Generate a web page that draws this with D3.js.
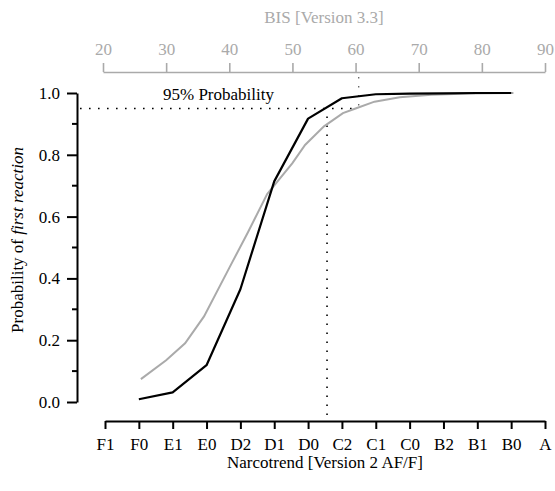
<!DOCTYPE html>
<html>
<head>
<meta charset="utf-8">
<script src="https://cdn.jsdelivr.net/npm/d3@7"></script>
<style>
  body { margin: 0; background: #fff; }
  svg { display: block; font-family: "Liberation Serif", "Times New Roman", serif; }
</style>
</head>
<body>
<svg id="chart" width="555" height="491"></svg>
<script>
// Narcotrend stages (bottom axis)
const stages = ['F1', 'F0', 'E1', 'E0', 'D2', 'D1', 'D0', 'C2', 'C1', 'C0', 'B2', 'B1', 'B0', 'A'];
// black curve: probability per Narcotrend stage (starts at F0)
const ntStages = ['F0', 'E1', 'E0', 'D2', 'D1', 'D0', 'C2', 'C1', 'C0', 'B2', 'B1', 'B0'];
const ntProb = [0.009, 0.031, 0.119, 0.365, 0.714, 0.917, 0.983, 0.996, 0.998, 0.999, 1.0, 1.0];

// grey curve: probability vs BIS
const bisValues = [26, 30, 33, 36, 40, 43, 46, 50, 52, 55, 58, 60, 63, 67, 72, 78, 85];
const bisProb = [0.074, 0.135, 0.19, 0.277, 0.434, 0.551, 0.673, 0.773, 0.832, 0.892, 0.935, 0.95, 0.972, 0.986, 0.994, 0.998, 1.0];

const bisTicks = [20, 30, 40, 50, 60, 70, 80, 90];
const probTicks = [0, 0.2, 0.4, 0.6, 0.8, 1.0];
const probMinor = [0.1, 0.3, 0.5, 0.7, 0.9];

const p95 = 0.95;
const bis95 = 60.5;   // BIS where grey curve reaches 95%
const nt95 = 6.56;    // stage position where black curve reaches 95%

const GREY = '#aaaaaa';
const FS = 17;

const svg = d3.select('#chart');

const x = d3.scaleLinear().domain([0, stages.length - 1]).range([105, 545]);
const xBis = d3.scaleLinear().domain([20, 90]).range([103, 545]);
const y = d3.scaleLinear().domain([0, 1]).range([402, 93]);

const styleAxis = (g, color, width) => {
  g.attr('font-family', null).attr('font-size', FS);
  g.select('.domain').attr('stroke', color).attr('stroke-width', width);
  g.selectAll('.tick line').attr('stroke', color).attr('stroke-width', width);
  g.selectAll('.tick text').attr('fill', color);
};

// top BIS axis
svg.append('g')
  .attr('transform', 'translate(0,72)')
  .call(d3.axisTop(xBis).tickValues(bisTicks).tickSize(9).tickSizeOuter(0).tickPadding(8))
  .call(styleAxis, GREY, 1.6);

svg.append('text')
  .attr('x', 324).attr('y', 23)
  .attr('text-anchor', 'middle')
  .attr('font-size', FS)
  .attr('fill', GREY)
  .text('BIS [Version 3.3]');

// bottom Narcotrend axis
svg.append('g')
  .attr('transform', 'translate(0,421)')
  .call(d3.axisBottom(x).ticks(stages.length).tickFormat((i) => stages[i]).tickSize(8).tickSizeOuter(0).tickPadding(9))
  .call(styleAxis, '#000', 2);

svg.append('text')
  .attr('x', 325).attr('y', 468)
  .attr('text-anchor', 'middle')
  .attr('font-size', FS)
  .text('Narcotrend [Version 2 AF/F]');

// left probability axis
const leftAxis = svg.append('g')
  .attr('transform', 'translate(77,0)')
  .call(d3.axisLeft(y).tickValues(probTicks).tickFormat(d3.format('.1f')).tickSize(10).tickSizeOuter(0).tickPadding(7))
  .call(styleAxis, '#000', 2);

leftAxis.selectAll('.minor')
  .data(probMinor)
  .join('line')
  .attr('class', 'minor')
  .attr('x1', -5).attr('x2', 0)
  .attr('y1', (d) => y(d)).attr('y2', (d) => y(d))
  .attr('stroke', '#000').attr('stroke-width', 2);

const yLabel = svg.append('text')
  .attr('transform', 'translate(23,240) rotate(-90)')
  .attr('text-anchor', 'middle')
  .attr('font-size', FS);
yLabel.append('tspan').text('Probability of ');
yLabel.append('tspan').attr('font-style', 'italic').text('first reaction');

// 95% guides
const dots = '1.6 7.4';
svg.append('line')
  .attr('x1', 80).attr('x2', xBis(bis95))
  .attr('y1', y(p95)).attr('y2', y(p95))
  .attr('stroke', '#000').attr('stroke-width', 1.6)
  .attr('stroke-dasharray', dots);
svg.append('line')
  .attr('x1', x(nt95)).attr('x2', x(nt95))
  .attr('y1', y(p95) + 8).attr('y2', 421)
  .attr('stroke', '#000').attr('stroke-width', 1.6)
  .attr('stroke-dasharray', dots);
svg.append('line')
  .attr('x1', xBis(bis95)).attr('x2', xBis(bis95))
  .attr('y1', 77).attr('y2', y(p95))
  .attr('stroke', '#555').attr('stroke-width', 1.2)
  .attr('stroke-dasharray', dots);

svg.append('text')
  .attr('x', 163).attr('y', 100)
  .attr('font-size', FS)
  .text('95% Probability');

// curves
const bisLine = d3.line()
  .x((d, i) => xBis(bisValues[i]))
  .y((d) => y(d));
svg.append('path')
  .datum(bisProb)
  .attr('d', bisLine)
  .attr('fill', 'none')
  .attr('stroke', GREY)
  .attr('stroke-width', 2);

const ntLine = d3.line()
  .x((d, i) => x(stages.indexOf(ntStages[i])))
  .y((d) => y(d));
svg.append('path')
  .datum(ntProb)
  .attr('d', ntLine)
  .attr('fill', 'none')
  .attr('stroke', '#000')
  .attr('stroke-width', 2.2)
  .attr('stroke-linejoin', 'round');
</script>
</body>
</html>
